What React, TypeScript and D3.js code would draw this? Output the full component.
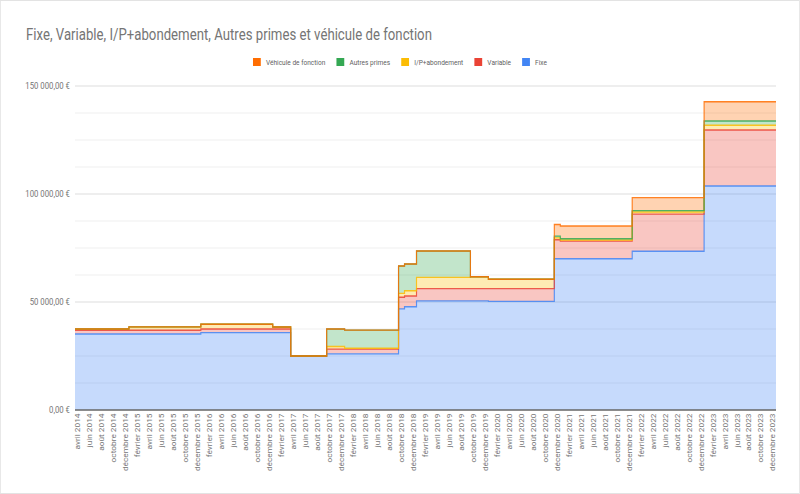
import * as d3 from 'd3';

// Screen layout is measured on an 800px-wide picture whose text is squeezed
// horizontally, so the svg uses a wider viewBox stretched into 800px.
const SX = 0.82;
const WIDTH = 800;
const HEIGHT = 494;
const VB_W = WIDTH / SX;
const sx = (px: number) => px / SX;

const PLOT = { left: 75, right: 776, top: 86, bottom: 410 };

const TITLE = 'Fixe, Variable, I/P+abondement, Autres primes et véhicule de fonction';

const MONTH_NAMES = [
  'janvier', 'février', 'mars', 'avril', 'mai', 'juin',
  'juillet', 'août', 'septembre', 'octobre', 'novembre', 'décembre',
];
const START_YEAR = 2014;
const START_MONTH = 3; // avril
const MONTH_COUNT = 117; // avril 2014 .. décembre 2023

const categories = d3.range(MONTH_COUNT).map((i) => {
  const m = START_MONTH + i;
  return `${MONTH_NAMES[m % 12]} ${START_YEAR + Math.floor(m / 12)}`;
});

// monthly values, one row per year (2014 starts in avril)
const fixe = [
  35200, 35200, 35200, 35200, 35200, 35200, 35200, 35200, 35200,
  35200, 35200, 35200, 35200, 35200, 35200, 35200, 35200, 35200, 35200, 35200, 35200,
  35800, 35800, 35800, 35800, 35800, 35800, 35800, 35800, 35800, 35800, 35800, 35800,
  35800, 35800, 35800, 25000, 25000, 25000, 25000, 25000, 25000, 26000, 26000, 26000,
  26000, 26000, 26000, 26000, 26000, 26000, 26000, 26000, 26000, 46800, 47800, 47800,
  50500, 50500, 50500, 50500, 50500, 50500, 50500, 50500, 50500, 50500, 50500, 50500,
  50300, 50300, 50300, 50300, 50300, 50300, 50300, 50300, 50300, 50300, 50300, 70000,
  70000, 70000, 70000, 70000, 70000, 70000, 70000, 70000, 70000, 70000, 70000, 70000,
  73500, 73500, 73500, 73500, 73500, 73500, 73500, 73500, 73500, 73500, 73500, 73500,
  103700, 103700, 103700, 103700, 103700, 103700, 103700, 103700, 103700, 103700, 103700, 103700,
];

const variable = [
  1700, 1700, 1700, 1700, 1700, 1700, 1700, 1700, 1700,
  1700, 1700, 1700, 1700, 1700, 1700, 1700, 1700, 1700, 1700, 1700, 1700,
  1700, 1700, 1700, 1700, 1700, 1700, 1700, 1700, 1700, 1700, 1700, 1700,
  1700, 1700, 1700, 0, 0, 0, 0, 0, 0, 2200, 2200, 2200,
  2200, 2200, 2200, 2200, 2200, 2200, 2200, 2200, 2200, 5400, 5000, 5000,
  5700, 5700, 5700, 5700, 5700, 5700, 5700, 5700, 5700, 5700, 5700, 5700,
  5900, 5900, 5900, 5900, 5900, 5900, 5900, 5900, 5900, 5900, 5900, 8800,
  8200, 8200, 8200, 8200, 8200, 8200, 8200, 8200, 8200, 8200, 8200, 8200,
  17200, 17200, 17200, 17200, 17200, 17200, 17200, 17200, 17200, 17200, 17200, 17200,
  25900, 25900, 25900, 25900, 25900, 25900, 25900, 25900, 25900, 25900, 25900, 25900,
];

const ipAbondement = [
  600, 600, 600, 600, 600, 600, 600, 600, 600,
  1600, 1600, 1600, 1600, 1600, 1600, 1600, 1600, 1600, 1600, 1600, 1600,
  2200, 2200, 2200, 2200, 2200, 2200, 2200, 2200, 2200, 2200, 2200, 2200,
  900, 900, 900, 0, 0, 0, 0, 0, 0, 1200, 1200, 1200,
  400, 400, 400, 400, 400, 400, 400, 400, 400, 1800, 2400, 2400,
  5200, 5200, 5200, 5200, 5200, 5200, 5200, 5200, 5200, 5500, 5500, 5500,
  4300, 4300, 4300, 4300, 4300, 4300, 4300, 4300, 4300, 4300, 4300, 900,
  500, 500, 500, 500, 500, 500, 500, 500, 500, 500, 500, 500,
  1000, 1000, 1000, 1000, 1000, 1000, 1000, 1000, 1000, 1000, 1000, 1000,
  2200, 2200, 2200, 2200, 2200, 2200, 2200, 2200, 2200, 2200, 2200, 2200,
];

const autresPrimes = [
  0, 0, 0, 0, 0, 0, 0, 0, 0,
  0, 0, 0, 0, 0, 0, 0, 0, 0, 0, 0, 0,
  0, 0, 0, 0, 0, 0, 0, 0, 0, 0, 0, 0,
  0, 0, 0, 0, 0, 0, 0, 0, 0, 8100, 8100, 8100,
  8400, 8400, 8400, 8400, 8400, 8400, 8400, 8400, 8400, 12700, 12400, 12400,
  12200, 12200, 12200, 12200, 12200, 12200, 12200, 12200, 12200, 0, 0, 0,
  0, 0, 0, 0, 0, 0, 0, 0, 0, 0, 0, 800,
  600, 600, 600, 600, 600, 600, 600, 600, 600, 600, 600, 600,
  600, 600, 600, 600, 600, 600, 600, 600, 600, 600, 600, 600,
  2000, 2000, 2000, 2000, 2000, 2000, 2000, 2000, 2000, 2000, 2000, 2000,
];

const vehicule = [
  0, 0, 0, 0, 0, 0, 0, 0, 0,
  0, 0, 0, 0, 0, 0, 0, 0, 0, 0, 0, 0,
  0, 0, 0, 0, 0, 0, 0, 0, 0, 0, 0, 0,
  0, 0, 0, 0, 0, 0, 0, 0, 0, 0, 0, 0,
  0, 0, 0, 0, 0, 0, 0, 0, 0, 0, 0, 0,
  0, 0, 0, 0, 0, 0, 0, 0, 0, 0, 0, 0,
  0, 0, 0, 0, 0, 0, 0, 0, 0, 0, 0, 5400,
  5900, 5900, 5900, 5900, 5900, 5900, 5900, 5900, 5900, 5900, 5900, 5900,
  6000, 6000, 6000, 6000, 6000, 6000, 6000, 6000, 6000, 6000, 6000, 6000,
  8900, 8900, 8900, 8900, 8900, 8900, 8900, 8900, 8900, 8900, 8900, 8900,
];

const SERIES_KEYS = ['fixe', 'variable', 'ip', 'autres', 'vehicule'];
const SERIES_LABELS = ['Fixe', 'Variable', 'I/P+abondement', 'Autres primes', 'Véhicule de fonction'];
const SERIES_COLORS = ['#4285f4', '#ea4335', '#fbbc04', '#34a853', '#ff6d01'];
const SERIES_VALUES = [fixe, variable, ipAbondement, autresPrimes, vehicule];

const Y_MAX = 150000;
const MAJOR_TICKS = [0, 50000, 100000, 150000];
const MINOR_TICKS = [12500, 25000, 37500, 62500, 75000, 87500, 112500, 125000, 137500];

const FONT = 'Roboto, "Noto Sans", sans-serif';
const TEXT_GREY = '#757575';

const euro = d3.formatLocale({
  decimal: ',',
  thousands: '\u00a0',
  grouping: [3],
  currency: ['', '\u00a0€'],
}).format('$,.2f');

function measure(text: string, size: number): number {
  const ctx = document.createElement('canvas').getContext('2d');
  if (!ctx) return text.length * size * 0.5;
  ctx.font = `${size}px Roboto`;
  return ctx.measureText(text).width;
}

export default function App() {
  const rows = categories.map((c, i) => {
    const r: Record<string, number> = {};
    SERIES_KEYS.forEach((k, s) => { r[k] = SERIES_VALUES[s][i]; });
    return r;
  });
  const layers = d3.stack<Record<string, number>>().keys(SERIES_KEYS)(rows);

  const x = d3.scaleBand<string>()
    .domain(categories)
    .range([sx(PLOT.left), sx(PLOT.right)])
    .padding(0);
  const y = d3.scaleLinear().domain([0, Y_MAX]).range([PLOT.bottom, PLOT.top]);

  type Pt = { x: number; y0: number; y1: number };
  const stepPoints = (layer: d3.Series<Record<string, number>, string>): Pt[] => {
    const pts = layer.map((d, i) => ({ x: x(categories[i]) as number, y0: d[0], y1: d[1] }));
    const last = pts[pts.length - 1];
    pts.push({ x: sx(PLOT.right), y0: last.y0, y1: last.y1 });
    return pts;
  };

  const area = d3.area<Pt>()
    .x((p) => p.x)
    .y0((p) => y(p.y0))
    .y1((p) => y(p.y1))
    .curve(d3.curveStepAfter);
  const line = d3.line<Pt>()
    .x((p) => p.x)
    .y((p) => y(p.y1))
    .curve(d3.curveStepAfter);

  // legend: reversed order, centred on the chart
  const legendSize = 8;
  const sq = sx(7.8);
  const sqGap = sx(5.2);
  const itemGap = sx(11);
  const legendOrder = [4, 3, 2, 1, 0];
  const widths = legendOrder.map((s) => measure(SERIES_LABELS[s], legendSize));
  const legendW = widths.reduce((a, w) => a + sq + sqGap + w, 0) + itemGap * (legendOrder.length - 1);
  let lx = VB_W / 2 - legendW / 2;
  const legendItems = legendOrder.map((s, k) => {
    const item = { s, x: lx };
    lx += sq + sqGap + widths[k] + itemGap;
    return item;
  });

  const labelCats = categories.filter((_, i) => i % 2 === 0);

  return (
    <svg
      width={WIDTH}
      height={HEIGHT}
      viewBox={`0 0 ${VB_W} ${HEIGHT}`}
      preserveAspectRatio="none"
      style={{ position: 'absolute', left: 0, top: 0, background: '#fff' }}
    >
      <rect x={0.5} y={0.5} width={VB_W - 1} height={HEIGHT - 1} fill="#fff" stroke="#e3e3e3" />

      <text x={sx(26)} y={40.5} fontFamily={FONT} fontSize={16.1} fill={TEXT_GREY}>
        {TITLE}
      </text>

      {legendItems.map(({ s, x: ix }) => (
        <g key={SERIES_KEYS[s]}>
          <rect x={ix} y={58} width={sq} height={8} fill={SERIES_COLORS[s]} />
          <text x={ix + sq + sqGap} y={65} fontFamily={FONT} fontSize={legendSize} fill="#5f5f5f">
            {SERIES_LABELS[s]}
          </text>
        </g>
      ))}

      {/* gridlines */}
      {MINOR_TICKS.map((t) => (
        <line key={`m${t}`} x1={sx(PLOT.left)} x2={sx(PLOT.right)} y1={y(t)} y2={y(t)} stroke="#ededed" strokeWidth={1} />
      ))}
      {MAJOR_TICKS.filter((t) => t > 0).map((t) => (
        <line key={`M${t}`} x1={sx(PLOT.left)} x2={sx(PLOT.right)} y1={y(t)} y2={y(t)} stroke="#d9d9d9" strokeWidth={1} />
      ))}
      {MAJOR_TICKS.map((t) => (
        <text
          key={`l${t}`}
          x={sx(70)}
          y={y(t) + 3.4}
          textAnchor="end"
          fontFamily={FONT}
          fontSize={9.5}
          fill={TEXT_GREY}
        >
          {euro(t)}
        </text>
      ))}

      {/* stacked stepped areas */}
      {layers.map((layer, s) => (
        <path key={`a${s}`} d={area(stepPoints(layer)) ?? ''} fill={SERIES_COLORS[s]} fillOpacity={0.3} />
      ))}
      {layers.map((layer, s) => (
        <path
          key={`l${s}`}
          d={line(stepPoints(layer)) ?? ''}
          fill="none"
          stroke={SERIES_COLORS[s]}
          strokeOpacity={0.85}
          strokeWidth={1.4}
          strokeLinejoin="miter"
        />
      ))}

      <line x1={sx(PLOT.left)} x2={sx(PLOT.right)} y1={y(0)} y2={y(0)} stroke="#666" strokeWidth={1.4} />

      {labelCats.map((c) => {
        const cx = (x(c) as number) + x.bandwidth() / 2 + 8.3 * 0.36;
        return (
          <text
            key={c}
            transform={`translate(${cx},${PLOT.bottom + 3.5}) rotate(-90)`}
            textAnchor="end"
            fontFamily={FONT}
            fontSize={8.3}
            fill={TEXT_GREY}
          >
            {c}
          </text>
        );
      })}
    </svg>
  );
}
